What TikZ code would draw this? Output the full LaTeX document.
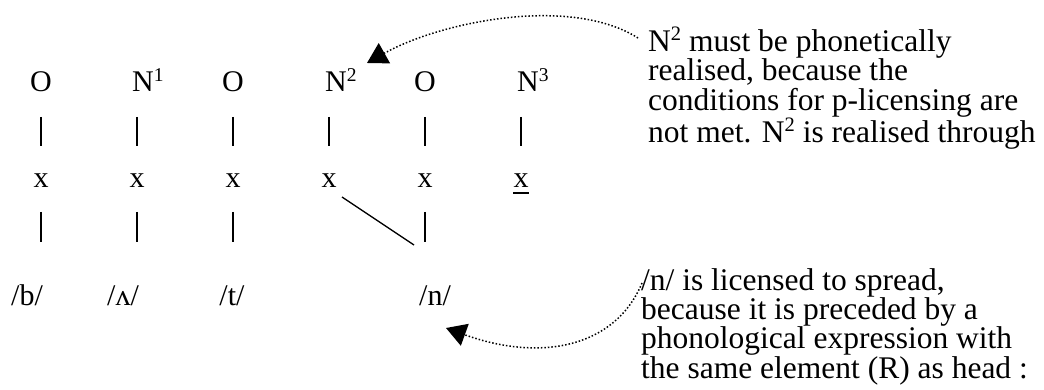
\documentclass[tikz,border=0pt]{standalone}
\usepackage{fontspec}
\setmainfont{Liberation Serif}
\usetikzlibrary{arrows.meta}
\newcommand\sups[1]{\raisebox{0.36em}{\fontsize{19.5}{20}\selectfont #1}}
\newcommand\notesups[1]{\raisebox{0.36em}{\fontsize{20.5}{20}\selectfont #1}}
\tikzset{
  lab/.style={inner sep=0pt, anchor=base},
  nlab/.style={inner sep=0pt, anchor=base west},
  stem/.style={line width=1.9pt},
  link/.style={line width=1.3pt},
  uline/.style={line width=1.6pt},
  note/.style={inner sep=0pt, anchor=base west, align=left,
    font=\fontsize{31.5}{29.3}\selectfont},
  dots/.style={line width=1.5pt, dash pattern=on 1.5pt off 2pt,
    -{Triangle[length=20pt,width=23pt]}},
}
\begin{document}
\begin{tikzpicture}[x=1pt,y=-1pt,font=\fontsize{30}{29}\selectfont]
\useasboundingbox (0,0) rectangle (1044,390);
% top row
\node[lab]  (o1) at (41,92)  {O};
\node[nlab] (n1) at (132,92) {N\sups{1}};
\node[lab]  (o2) at (233,92) {O};
\node[nlab] (n2) at (325,92) {N\sups{2}};
\node[lab]  (o3) at (425,92) {O};
\node[nlab] (n3) at (517,92) {N\sups{3}};
% skeleton
\node[lab] (x1) at (41,188)  {x};
\node[lab] (x2) at (137,188) {x};
\node[lab] (x3) at (233,188) {x};
\node[lab] (x4) at (329,188) {x};
\node[lab] (x5) at (425,188) {x};
\node[lab] (x6) at (521,188) {x};
\draw[uline] ([yshift=-5pt]x6.base west) -- ([yshift=-5pt]x6.base east);
% melody
\node[lab] (pb) at (27,305)  {/b/};
\node[lab] (pa) at (123,305) {/ʌ/};
\node[lab] (pt) at (232,305) {/t/};
\node[lab] (pn) at (435,305) {/n/};
% vertical stems
\coordinate (t1) at (0,117); \coordinate (t2) at (0,146);
\coordinate (u1) at (0,212); \coordinate (u2) at (0,242);
\foreach \c in {x1,x2,x3,x4,x5,x6}{\draw[stem] (\c |- t1) -- (\c |- t2);}
\foreach \c in {x1,x2,x3,x5}{\draw[stem] (\c |- u1) -- (\c |- u2);}
\coordinate (d1) at (342,197);
\coordinate (d2) at (414,245);
\draw[link] (d1) -- (d2);
% annotations (base anchor = last line)
\node[note] (a1) at (648,143) {N\notesups{2} must be phonetically\\realised, because the\\conditions for p-licensing are\\not met. N\notesups{2} is realised through};
\node[note] (a2) at (641,378) {/n/ is licensed to spread,\\because it is preceded by a\\phonological expression with\\the same element (R) as head :};
\coordinate (s1) at (638,38);
\coordinate (e1) at (367,63);
\draw[dots] (s1) .. controls (570,-5) and (440,22) .. (e1);
\coordinate (s2) at (642,283);
\coordinate (e2) at (446,328);
\draw[dots] (s2) .. controls (615,348) and (540,362) .. (e2);
\end{tikzpicture}
\end{document}
